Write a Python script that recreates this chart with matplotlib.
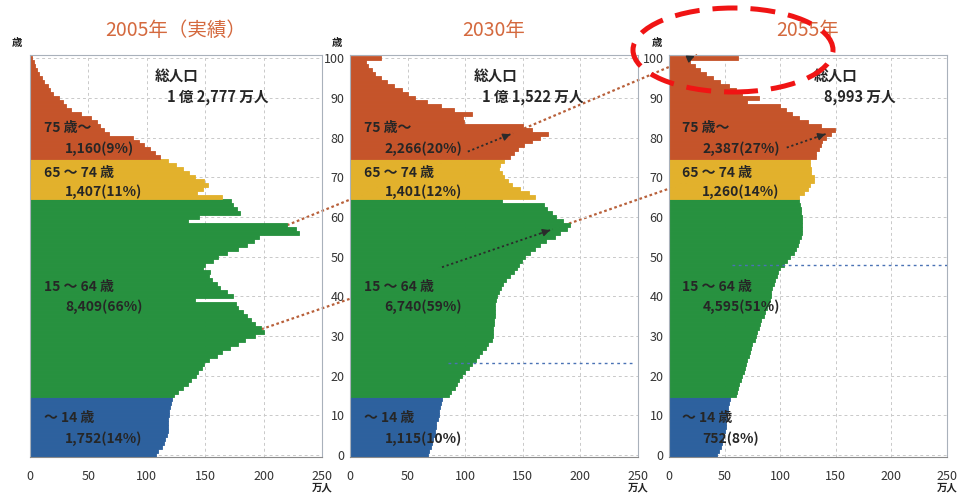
import numpy as np
import matplotlib.pyplot as plt
from matplotlib.lines import Line2D
from matplotlib.patches import Ellipse, FancyArrowPatch

plt.rcParams['font.family'] = ['Noto Sans CJK JP', 'DejaVu Sans']

# population by single year of age (万人), index = age, 100 = 100歳以上
ages = np.arange(101)

pop_2005 = [
    108, 110, 113, 115, 116, 117, 118, 118, 118, 118,   # 0-9
    119, 119, 120, 121, 122, 123, 127, 131, 135, 138,   # 10-19
    142, 144, 147, 149, 153, 160, 164, 171, 178, 184,   # 20-29
    193, 200, 198, 193, 189, 186, 182, 178, 176, 141,   # 30-39
    174, 169, 163, 160, 156, 153, 154, 148, 150, 157,   # 40-49
    161, 169, 178, 186, 192, 196, 230, 228, 220, 135,   # 50-59
    145, 180, 177, 174, 172, 164, 143, 148, 152, 149,   # 60-69
    141, 136, 131, 125, 118, 111, 107, 103, 98, 93,     # 70-79
    88, 68, 63, 60, 57, 52, 44, 35, 31, 28,             # 80-89
    25, 20, 17, 15, 12, 10, 8, 6, 4, 3,                 # 90-99
    2,
]

pop_2030 = [
    68, 69, 70, 71, 72, 74, 74, 75, 75, 76,
    77, 77, 78, 79, 80, 86, 88, 91, 93, 95,
    97, 100, 103, 106, 109, 112, 115, 118, 120, 123,
    124, 124, 124, 125, 125, 126, 126, 126, 126, 127,
    128, 129, 131, 133, 135, 139, 142, 145, 147, 149,
    152, 156, 161, 165, 170, 178, 182, 188, 191, 185,
    179, 175, 171, 168, 132, 161, 155, 148, 141, 137,
    134, 132, 129, 130, 134, 139, 142, 146, 151, 158,
    165, 172, 158, 150, 99, 98, 106, 90, 79, 67,
    56, 50, 45, 38, 32, 27, 22, 19, 16, 14,
    27,
]

pop_2055 = [
    43, 45, 47, 48, 49, 49, 50, 51, 51, 52,
    52, 53, 53, 54, 55, 60, 61, 62, 63, 65,
    66, 67, 68, 69, 70, 72, 73, 74, 75, 77,
    78, 79, 81, 82, 83, 85, 86, 88, 90, 91,
    92, 92, 93, 94, 95, 97, 98, 100, 103, 106,
    109, 112, 114, 116, 117, 119, 120, 120, 120, 120,
    120, 119, 119, 118, 117, 117, 121, 125, 127, 130,
    130, 128, 128, 127, 127, 132, 132, 135, 137, 138,
    141, 146, 149, 137, 125, 117, 111, 105, 100, 70,
    81, 66, 60, 54, 46, 40, 33, 28, 23, 19,
    62,
]

populations = [pop_2005, pop_2030, pop_2055]
years = ['2005年（実績）', '2030年', '2055年']
totals = ['1 億 2,777 万人', '1 億 1,522 万人', '8,993 万人']
group_names = ['～ 14 歳', '15 ～ 64 歳', '65 ～ 74 歳', '75 歳～']
group_values = [
    ['1,752(14%)', '8,409(66%)', '1,407(11%)', '1,160(9%)'],
    ['1,115(10%)', '6,740(59%)', '1,401(12%)', '2,266(20%)'],
    ['752(8%)', '4,595(51%)', '1,260(14%)', '2,387(27%)'],
]
group_colors = ['#2d619e', '#27913f', '#e2b12c', '#c5542a']
title_color = '#d4693e'
text_color = '#262626'


def group_of(age):
    if age < 15:
        return 0
    if age < 65:
        return 1
    if age < 75:
        return 2
    return 3


W, H = 963, 494
fig = plt.figure(figsize=(W / 100, H / 100), dpi=100)

# panel boxes in pixels (left, width); all share bottom 457 / top 55
boxes = [(30, 292), (350, 288), (669, 278)]
name_y = [9.3, 42.3, 71.0, 82.4]
value_y = [4.0, 37.3, 66.3, 77.3]
total_x = [(107, 117), (107, 115), (130, 139)]

axes = []
for i, (left, width) in enumerate(boxes):
    ax = fig.add_axes([left / W, (H - 457) / H, width / W, 402 / H])
    ax.set_facecolor('none')
    pop = populations[i]
    colors = [group_colors[group_of(a)] for a in ages]
    ax.barh(ages, pop, height=1.0, color=colors, edgecolor=colors,
            linewidth=0.6, zorder=2)

    ax.set_xlim(0, 250)
    ax.set_ylim(-0.5, 100.8)
    ax.set_xticks([0, 50, 100, 150, 200, 250])
    ax.set_yticks(range(0, 101, 10))
    ax.set_axisbelow(True)
    ax.grid(True, color='#c9c9c9', linestyle=(0, (3, 3)), linewidth=0.7)
    ax.tick_params(length=0, labelsize=9, colors='#333333')
    ax.tick_params(axis='x', pad=9)
    ax.tick_params(axis='y', pad=4)
    if i == 0:
        ax.tick_params(labelleft=False)
    for s in ax.spines.values():
        s.set_color('#a9b1bb')
        s.set_linewidth(0.8)
    ax.spines['bottom'].set_color('#8a8a8a')

    ax.text(0.5, 1.062, years[i], transform=ax.transAxes, ha='center',
            va='center', fontsize=14, color=title_color)
    ax.text(-0.045, 1.03, '歳', transform=ax.transAxes, ha='center',
            va='center', fontsize=7.5, fontweight='bold', color='#222222')
    ax.text(1.0, -0.077, '万人', transform=ax.transAxes, ha='center',
            va='center', fontsize=7.5, fontweight='bold', color='#222222')

    for g in range(4):
        ax.text(12, name_y[g], group_names[g], fontsize=10, fontweight='bold',
                va='center', ha='left', color=text_color, zorder=5)
        ax.text(30, value_y[g], group_values[i][g], fontsize=10,
                fontweight='bold', va='center', ha='left', color=text_color,
                zorder=5)
    ax.text(total_x[i][0], 95.5, '総人口', fontsize=10.5, va='center',
            ha='left', color=text_color, fontweight='bold')
    ax.text(total_x[i][1], 90.2, totals[i], fontsize=10.5, va='center',
            ha='left', color=text_color, fontweight='bold')
    axes.append(ax)

ax1, ax2, ax3 = axes

# dashed marker lines for the cohort born after 2005
ax2.plot([85, 245], [23.3, 23.3], color='#4a72b5', linestyle=(0, (2, 2.5)),
         linewidth=1.0, zorder=3)
ax3.plot([57, 250], [47.9, 47.9], color='#4a72b5', linestyle=(0, (2, 2.5)),
         linewidth=1.0, zorder=3)


def fig_xy(ax, x, y):
    return fig.transFigure.inverted().transform(ax.transData.transform((x, y)))


def along(p, q, t):
    return p + (q - p) * t


# cohort tracking lines: 2005 bar tip -> 2030 -> 2055
cohorts = [
    [fig_xy(ax1, pop_2005[58], 57.9), fig_xy(ax2, 141.5, 81.1),
     fig_xy(ax3, 25.4, 100.8), 0.80, None],
    [fig_xy(ax1, pop_2005[32], 31.7), fig_xy(ax2, 176, 56.9),
     fig_xy(ax3, 143, 81.1), 0.62, 0.85],
]
dark = '#2b2b2b'
for a, b, c, t2, t3 in cohorts:
    fig.add_artist(Line2D([a[0], b[0], c[0]], [a[1], b[1], c[1]],
                          transform=fig.transFigure, color='#b8603a',
                          linestyle=(0, (1.2, 1.2)), linewidth=1.6, zorder=-1))
    s = along(a, b, t2)
    fig.add_artist(Line2D([s[0], b[0]], [s[1], b[1]], transform=fig.transFigure,
                          color=dark, linestyle=(0, (1.2, 1.5)), linewidth=1.3,
                          zorder=6))
    fig.add_artist(FancyArrowPatch(along(a, b, 0.95), b, transform=fig.transFigure,
                                   arrowstyle='-|>', mutation_scale=11,
                                   color=dark, linewidth=1, zorder=7))
    if t3 is not None:
        s = along(b, c, t3)
        fig.add_artist(Line2D([s[0], c[0]], [s[1], c[1]], transform=fig.transFigure,
                              color=dark, linestyle=(0, (1.2, 1.5)),
                              linewidth=1.3, zorder=6))
    fig.add_artist(FancyArrowPatch(along(b, c, 0.95), c, transform=fig.transFigure,
                                   arrowstyle='-|>', mutation_scale=11,
                                   color=dark, linewidth=1, zorder=7))

# red dashed highlight around the 100+ bar of 2055
fig.add_artist(Ellipse((733 / W, 1 - 50 / H), 200 / W, 84 / H,
                       transform=fig.transFigure, fill=False, edgecolor='#f01414',
                       linewidth=3.6, linestyle=(0, (5, 2.6)), zorder=10))

fig.savefig('out.png', dpi=100)
